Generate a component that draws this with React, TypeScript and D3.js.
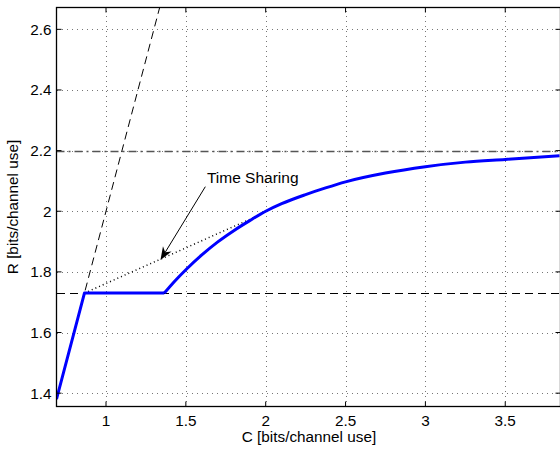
import * as d3 from 'd3'

// ticks
const xTicks = [1, 1.5, 2, 2.5, 3, 3.5]
const yTicks = [1.4, 1.6, 1.8, 2, 2.2, 2.4, 2.6]

// blue rate curve: linear knee then the smooth arc
const kneeC = [0.69, 0.865, 1.365]
const kneeR = [1.38, 1.73, 1.73]
const arcC = [1.365, 1.43, 1.5, 1.6, 1.7, 1.8, 1.9, 2.0, 2.1, 2.25, 2.375, 2.5, 2.75, 3.0, 3.25, 3.5, 3.84]
const arcR = [1.73, 1.769, 1.807, 1.856, 1.899, 1.936, 1.969, 2.0, 2.025, 2.055, 2.077, 2.097, 2.126, 2.147, 2.162, 2.171, 2.183]

// reference lines
const steepC = [0.6, 1.4]
const steepR = [1.2, 2.8]
const floorR = 1.73
const capR = 2.2

// time sharing segment
const shareC = [0.865, 1.95]
const shareR = [1.73, 1.985]

// annotation
const arrowTail = { c: 1.622, r: 2.081 }
const arrowTip = { c: 1.341, r: 1.839 }
const noteText = 'Time Sharing'
const notePos = { c: 1.632, r: 2.093 }

const W = 560
const H = 450
const PAD = { left: 56.5, top: 7.5, right: -0.5, bottom: 43.5 }
const FONT = 'Liberation Sans, Arial, Helvetica, sans-serif'

export default function App() {
  const x = d3.scaleLinear().domain([0.69, 3.846]).range([PAD.left, W - PAD.right])
  const y = d3.scaleLinear().domain([1.356, 2.672]).range([H - PAD.bottom, PAD.top])
  const [x0, x1] = x.range()
  const [y0, y1] = y.range()
  const yc = (v: number) => Math.round(y(v)) + 0.5

  const line = d3.line<[number, number]>().x(d => x(d[0])).y(d => y(d[1]))
  const zip = (a: number[], b: number[]) => a.map((v, i) => [v, b[i]] as [number, number])

  const kneePath = line(zip(kneeC, kneeR)) || ''
  const arcPath = line.curve(d3.curveMonotoneX)(zip(arcC, arcR)) || ''
  line.curve(d3.curveLinear)
  const steepPath = line(zip(steepC, steepR)) || ''
  const sharePath = line(zip(shareC, shareR)) || ''

  // arrow head
  const tx = x(arrowTip.c), ty = y(arrowTip.r)
  const sx = x(arrowTail.c), sy = y(arrowTail.r)
  const ang = Math.atan2(ty - sy, tx - sx)
  const L = 13, Wd = 5
  const bx = tx - L * Math.cos(ang), by = ty - L * Math.sin(ang)
  const nx = -Math.sin(ang), ny = Math.cos(ang)
  const mx = tx - L * 0.7 * Math.cos(ang), my = ty - L * 0.7 * Math.sin(ang)
  const head = `M${tx},${ty}L${bx + nx * Wd},${by + ny * Wd}L${mx},${my}L${bx - nx * Wd},${by - ny * Wd}Z`

  const gridStyle = { stroke: '#777', strokeWidth: 1, strokeDasharray: '1,4', shapeRendering: 'crispEdges' as const }

  return (
    <svg width={W} height={H} style={{ position: 'absolute', left: 0, top: 0, background: '#fff' }}>
      <defs>
        <clipPath id="plot-clip">
          <rect x={x0} y={y1} width={x1 - x0} height={y0 - y1} />
        </clipPath>
      </defs>

      {/* grid */}
      {xTicks.map(t => (
        <line key={'gx' + t} x1={Math.round(x(t)) + 0.5} x2={Math.round(x(t)) + 0.5} y1={y0} y2={y1} {...gridStyle} />
      ))}
      {yTicks.map(t => (
        <line key={'gy' + t} x1={x0} x2={x1} y1={yc(t)} y2={yc(t)} {...gridStyle} />
      ))}

      <g clipPath="url(#plot-clip)">
        {/* R = 2C */}
        <path d={steepPath} fill="none" stroke="#000" strokeWidth={1} strokeDasharray="8,5" />
        {/* floor and cap */}
        <line x1={x0} x2={x1} y1={yc(floorR)} y2={yc(floorR)} stroke="#000" strokeWidth={1} strokeDasharray="8,5" shapeRendering="crispEdges" />
        <line x1={x0} x2={x1} y1={yc(capR)} y2={yc(capR)} stroke="#555" strokeWidth={1.5} strokeDasharray="8,4,2,4" />
        {/* time sharing */}
        <path d={sharePath} fill="none" stroke="#000" strokeWidth={1.5} strokeDasharray="1,3" />
        {/* rate curve */}
        <path d={kneePath} fill="none" stroke="#0000ff" strokeWidth={3} strokeLinejoin="round" />
        <path d={arcPath} fill="none" stroke="#0000ff" strokeWidth={3} />
      </g>

      {/* annotation */}
      <line x1={sx} y1={sy} x2={mx} y2={my} stroke="#000" strokeWidth={1} />
      <path d={head} fill="#000" />
      <text x={x(notePos.c)} y={y(notePos.r)} fontFamily={FONT} fontSize={15.5} fill="#000">{noteText}</text>

      {/* ticks */}
      {xTicks.map(t => (
        <g key={'tx' + t}>
          <line x1={x(t)} x2={x(t)} y1={y0} y2={y0 - 5} stroke="#000" />
          <line x1={x(t)} x2={x(t)} y1={y1} y2={y1 + 5} stroke="#000" />
          <text x={x(t)} y={y0 + 19} textAnchor="middle" fontFamily={FONT} fontSize={15.3}>{t}</text>
        </g>
      ))}
      {yTicks.map(t => (
        <g key={'ty' + t}>
          <line x1={x0} x2={x0 + 5} y1={y(t)} y2={y(t)} stroke="#000" />
          <line x1={x1} x2={x1 - 5} y1={y(t)} y2={y(t)} stroke="#000" />
          <text x={x0 - 5} y={y(t)} dy="0.36em" textAnchor="end" fontFamily={FONT} fontSize={15.3}>{t}</text>
        </g>
      ))}

      {/* frame */}
      <rect x={x0} y={y1} width={x1 - x0} height={y0 - y1} fill="none" stroke="#000" strokeWidth={1.3} />

      {/* axis labels */}
      <text x={309} y={y0 + 35} textAnchor="middle" fontFamily={FONT} fontSize={15.3}>C [bits/channel use]</text>
      <text transform={`translate(${x0 - 39},${(y0 + y1) / 2}) rotate(-90)`} textAnchor="middle" fontFamily={FONT} fontSize={15.3}>R [bits/channel use]</text>
    </svg>
  )
}
